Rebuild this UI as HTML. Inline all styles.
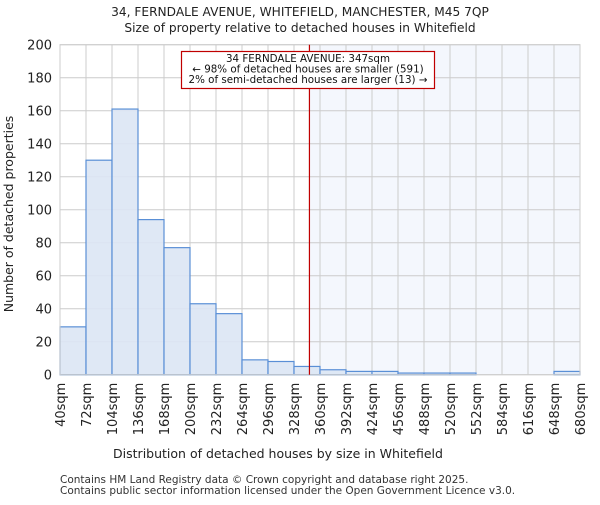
<!DOCTYPE html>
<html><head><meta charset="utf-8"><style>
body{margin:0;background:#fff;}
svg{font-family:"DejaVu Sans","Liberation Sans",sans-serif;}
</style></head><body>
<svg id="chart" width="600" height="500" viewBox="0 0 600 500">
<text x="300" y="16" text-anchor="middle" font-size="12.2" fill="#222">34, FERNDALE AVENUE, WHITEFIELD, MANCHESTER, M45 7QP</text>
<text x="300" y="32" text-anchor="middle" font-size="12.2" fill="#222">Size of property relative to detached houses in Whitefield</text>
<g id="plot"></g>
<text x="278" y="458" text-anchor="middle" font-size="12.5" fill="#222">Distribution of detached houses by size in Whitefield</text>
<text transform="translate(13,214) rotate(-90)" text-anchor="middle" font-size="12.5" fill="#222">Number of detached properties</text>
<text x="60" y="483" font-size="10.5" fill="#333">Contains HM Land Registry data © Crown copyright and database right 2025.</text>
<text x="60" y="494" font-size="10.5" fill="#333">Contains public sector information licensed under the Open Government Licence v3.0.</text>
</svg>
<script>
const binStarts=[40,72,104,136,168,200,232,264,296,328,360,392,424,456,488,520,552,584,616,648];
const counts=[29,130,161,94,77,43,37,9,8,5,3,2,2,1,1,1,0,0,0,2];
const xTickLabels=["40sqm","72sqm","104sqm","136sqm","168sqm","200sqm","232sqm","264sqm","296sqm","328sqm","360sqm","392sqm","424sqm","456sqm","488sqm","520sqm","552sqm","584sqm","616sqm","648sqm","680sqm"];
const yTicks=[0,20,40,60,80,100,120,140,160,180,200];
const propertySize=347;
const binWidth=32;
const X0=60,X1=580,Y0=374.7,Y1=44.7,xMin=40,xMax=680,yMax=200;
const xs=v=>X0+(v-xMin)/(xMax-xMin)*(X1-X0);
const ys=v=>Y0-v/yMax*(Y0-Y1);
const NS="http://www.w3.org/2000/svg";
const g=document.getElementById('plot');
function mk(t,a){const e=document.createElementNS(NS,t);for(const k in a)e.setAttribute(k,a[k]);g.appendChild(e);return e;}
const shade=mk('rect',{x:xs(propertySize),y:Y1,width:X1-xs(propertySize),height:Y0-Y1,fill:'#f4f7fd'});


yTicks.forEach(t=>{
 const l=mk('line',{x1:X0,x2:X1,y1:ys(t),y2:ys(t),stroke:'#cccccc','stroke-width':1});
 
 
 const tx=mk('text',{x:X0-8,y:ys(t)+5,'text-anchor':'end','font-size':13,fill:'#222'});
 tx.textContent=t;
 
 
});
xTickLabels.forEach((lab,i)=>{
 const v=xMin+i*binWidth;
 const l=mk('line',{x1:xs(v),x2:xs(v),y1:Y1,y2:Y0,stroke:'#cccccc','stroke-width':1});
 
 
 const tx=mk('text',{transform:`translate(${xs(v)+5},${Y0+8}) rotate(-90)`,'text-anchor':'end','font-size':13,fill:'#222'});
 tx.textContent=lab;
 
 
});
binStarts.forEach((s,i)=>{
 if(counts[i]<=0)return;
 const r=mk('rect',{x:xs(s),y:ys(counts[i]),width:xs(s+binWidth)-xs(s),height:Y0-ys(counts[i]),fill:'#dce6f4',stroke:'#5a8fd6','stroke-width':1.2,'fill-opacity':0.9});
 
 
});
const border=mk('rect',{x:X0,y:Y1,width:X1-X0,height:Y0-Y1,fill:'none',stroke:'#cccccc','stroke-width':1});


const ml=mk('line',{x1:xs(propertySize),x2:xs(propertySize),y1:Y1,y2:Y0,stroke:'#c00000','stroke-width':1.2});


const box=mk('rect',{x:181.5,y:51.5,width:253,height:37,fill:'#fff',stroke:'#c00000','stroke-width':1.2});


["34 FERNDALE AVENUE: 347sqm","← 98% of detached houses are smaller (591)","2% of semi-detached houses are larger (13) →"].forEach((t,i)=>{
 const tx=mk('text',{x:308,y:62+i*10.5,'text-anchor':'middle','font-size':10.3,fill:'#111'});
 tx.textContent=t;
 
 
});
</script>
</body></html>
